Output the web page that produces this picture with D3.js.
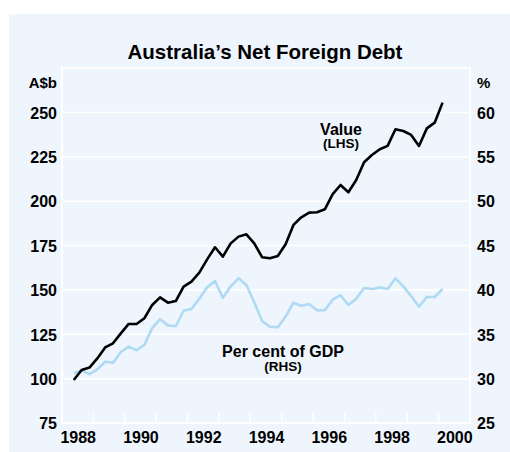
<!DOCTYPE html>
<html>
<head>
<meta charset="utf-8">
<script src="https://cdnjs.cloudflare.com/ajax/libs/d3/7.8.5/d3.min.js"></script>
<style>
  body { margin: 0; background: #fff; }
  svg text { font-family: "Liberation Sans", Arial, sans-serif; font-weight: bold; fill: #000; }
</style>
</head>
<body>
<div id="chart"></div>
<script>
// quarterly, June 1988 to March 2000 (plotted mid-quarter)
const startYear = 1988.375;
const netDebt = [99.2, 104.9, 106.2, 111.4, 117.6, 119.9, 125.5, 130.8, 130.8, 134.0,
    141.5, 145.8, 142.8, 143.7, 151.8, 154.6, 159.7, 167.2, 174.0, 168.7,
    176.2, 180.0, 181.3, 176.2, 168.4, 167.8, 169.1, 175.7, 186.6, 190.9,
    193.5, 193.7, 195.4, 203.9, 209.1, 205.0, 211.9, 221.9, 226.0, 229.2,
    231.1, 240.5, 239.5, 237.3, 231.1, 241.0, 244.2, 255.5];
const pctGdp = [30.6, 30.9, 30.5, 31.05, 31.9, 31.8, 33.0, 33.6, 33.2, 33.8,
    35.7, 36.7, 36.0, 35.9, 37.65, 37.85, 39.0, 40.3, 41.0, 39.1,
    40.4, 41.3, 40.55, 38.6, 36.5, 35.85, 35.8, 37.0, 38.55, 38.2,
    38.4, 37.7, 37.7, 38.9, 39.4, 38.3, 39.0, 40.2, 40.1, 40.25,
    40.1, 41.3, 40.4, 39.3, 38.1, 39.2, 39.2, 40.1];
const leftTicks = [75, 100, 125, 150, 175, 200, 225, 250];
const rightTicks = [25, 30, 35, 40, 45, 50, 55, 60];
const yearLabels = [1988, 1990, 1992, 1994, 1996, 1998, 2000];

const W = 510, H = 452;
const margin = {top: 68, right: 40, bottom: 29, left: 62};
const innerW = W - margin.left - margin.right,
    innerH = H - margin.top - margin.bottom;

const svg = d3.select("#chart").append("svg")
    .attr("width", W).attr("height", H);

svg.append("rect").attr("x", 9).attr("y", 14)
    .attr("width", W - 9).attr("height", H - 14)
    .attr("fill", "#eef5fc");

const g = svg.append("g")
    .attr("transform", `translate(${margin.left},${margin.top})`);

const x = d3.scaleLinear().domain([1988, 2001]).range([0, innerW]);
const yL = d3.scaleLinear().domain([75, 275]).range([innerH, 0]);
const yR = d3.scaleLinear().domain([25, 65]).range([innerH, 0]);

// white gridlines
g.append("g").selectAll("line")
    .data(d3.range(75, 276, 25))
    .join("line")
    .attr("x1", 0).attr("x2", innerW)
    .attr("y1", d => yL(d)).attr("y2", d => yL(d))
    .attr("stroke", "#fff").attr("stroke-width", 1.5);

// frame
g.append("rect").attr("width", innerW).attr("height", innerH)
    .attr("fill", "none").attr("stroke", "#fff").attr("stroke-width", 2);

// year tick marks (white, pointing up)
g.append("g").selectAll("line")
    .data(d3.range(1989, 2001))
    .join("line")
    .attr("x1", d => x(d)).attr("x2", d => x(d))
    .attr("y1", innerH).attr("y2", innerH - 10)
    .attr("stroke", "#fff").attr("stroke-width", 1.5);

// left axis labels
const leftAxis = d3.axisLeft(yL).tickValues(leftTicks).tickSize(0).tickPadding(5);
const la = g.append("g").call(leftAxis);
la.select(".domain").remove();
la.selectAll("text").style("font-size", "16px").attr("dy", "0.36em");

const rightAxis = d3.axisRight(yR).tickValues(rightTicks).tickSize(0).tickPadding(7);
const ra = g.append("g").attr("transform", `translate(${innerW},0)`).call(rightAxis);
ra.select(".domain").remove();
ra.selectAll("text").style("font-size", "16px").attr("dy", "0.36em");

// year labels centred in each year
const bottomAxis = d3.axisBottom(x).tickValues(yearLabels.map(d => d + 0.5))
    .tickFormat(d => Math.floor(d)).tickSize(0).tickPadding(8.5);
const ba = g.append("g").attr("transform", `translate(0,${innerH})`).call(bottomAxis);
ba.select(".domain").remove();
ba.selectAll("text").style("font-size", "16px");

// lines
const qx = (d, i) => x(startYear + i * 0.25);
g.append("path").datum(pctGdp)
    .attr("fill", "none").attr("stroke", "#aedaf4").attr("stroke-width", 2.6)
    .attr("stroke-linejoin", "round")
    .attr("d", d3.line().x(qx).y(d => yR(d)));
g.append("path").datum(netDebt)
    .attr("fill", "none").attr("stroke", "#000").attr("stroke-width", 2.6)
    .attr("stroke-linejoin", "round")
    .attr("d", d3.line().x(qx).y(d => yL(d)));

// titles and labels
svg.append("text").attr("x", 265).attr("y", 59).attr("text-anchor", "middle")
    .style("font-size", "20.5px").text("Australia’s Net Foreign Debt");
svg.append("text").attr("x", 57).attr("y", 88).attr("text-anchor", "end")
    .style("font-size", "15px").text("A$b");
svg.append("text").attr("x", 477).attr("y", 88)
    .style("font-size", "15px").text("%");

svg.append("text").attr("x", 341).attr("y", 134.5).attr("text-anchor", "middle")
    .style("font-size", "16px").text("Value");
svg.append("text").attr("x", 341).attr("y", 148).attr("text-anchor", "middle")
    .style("font-size", "13.5px").text("(LHS)");
svg.append("text").attr("x", 283).attr("y", 357).attr("text-anchor", "middle")
    .style("font-size", "16px").text("Per cent of GDP");
svg.append("text").attr("x", 283).attr("y", 371).attr("text-anchor", "middle")
    .style("font-size", "13.5px").text("(RHS)");
</script>
</body>
</html>
